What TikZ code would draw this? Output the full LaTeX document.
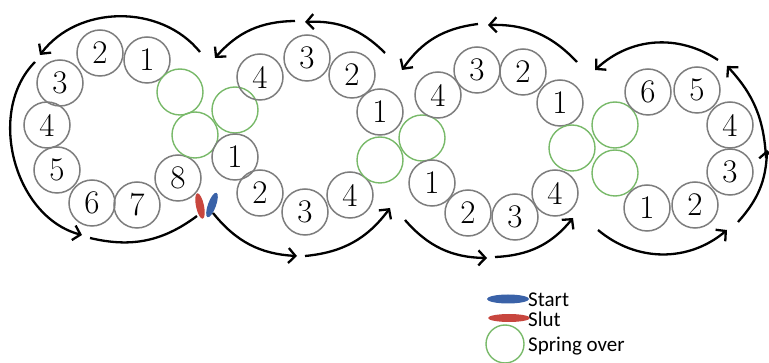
\documentclass[tikz,border=0pt]{standalone}
\usepackage{fontspec}
\newfontfamily\legendfont{Carlito}
\usetikzlibrary{arrows.meta,shapes.geometric}
\definecolor{kuglegraa}{RGB}{125,125,125}
\definecolor{springgroen}{RGB}{120,185,105}
\definecolor{startblaa}{RGB}{58,98,168}
\definecolor{slutroed}{RGB}{200,70,62}

\begin{document}
\begin{tikzpicture}[x=1pt,y=-1pt,
  kugle/.style={draw=kuglegraa, line width=1.5pt, circle, minimum size=46pt, inner sep=0pt, font=\fontsize{33}{33}\selectfont},
  springfelt/.style={draw=springgroen, line width=1.4pt, circle, minimum size=46pt, inner sep=0pt},
  markoer/.style={ellipse, minimum width=8pt, minimum height=26pt, inner sep=0pt},
  pil/.style={line width=2.3pt, -{Straight Barb[length=7pt,width=15pt]}},
  streg/.style={line width=2.3pt},
  legende/.style={anchor=base west, inner sep=0pt, font=\legendfont\fontsize{21}{21}\selectfont}]
\useasboundingbox (0,0) rectangle (769,363);

% ring 1
\node[kugle] (a1) at (147,60) {1};
\node[kugle] (a2) at (100,53) {2};
\node[kugle] (a3) at (60,83) {3};
\node[kugle] (a4) at (47,125) {4};
\node[kugle] (a5) at (57,170) {5};
\node[kugle] (a6) at (92,203) {6};
\node[kugle] (a7) at (137,205) {7};
\node[kugle] (a8) at (178,178) {8};
\node[springfelt] (ga1) at (180,92) {};
\node[springfelt] (ga2) at (195,135) {};

% ring 2
\node[springfelt] (gb1) at (235,110) {};
\node[kugle] (b1) at (235,157) {1};
\node[kugle] (b2) at (260,193) {2};
\node[kugle] (b3) at (305,212) {3};
\node[kugle] (b4) at (350,195) {4};
\node[kugle] (bt4) at (260,77) {4};
\node[kugle] (bt3) at (307,58) {3};
\node[kugle] (bt2) at (352,75) {2};
\node[kugle] (bt1) at (380,112) {1};
\node[springfelt] (gb2) at (380,160) {};

% ring 3
\node[springfelt] (gc1) at (422,138) {};
\node[kugle] (c1) at (432,183) {1};
\node[kugle] (c2) at (468,213) {2};
\node[kugle] (c3) at (515,217) {3};
\node[kugle] (c4) at (555,193) {4};
\node[kugle] (ct4) at (438,95) {4};
\node[kugle] (ct3) at (477,70) {3};
\node[kugle] (ct2) at (523,72) {2};
\node[kugle] (ct1) at (560,103) {1};
\node[springfelt] (gc2) at (572,148) {};

% ring 4
\node[springfelt] (gd1) at (615,125) {};
\node[springfelt] (gd2) at (615,173) {};
\node[kugle] (d6) at (648,92) {6};
\node[kugle] (d5) at (697,90) {5};
\node[kugle] (d4) at (730,125) {4};
\node[kugle] (d3) at (730,172) {3};
\node[kugle] (d2) at (695,205) {2};
\node[kugle] (d1) at (647,208) {1};

% start og slut
\node[markoer, fill=slutroed, rotate=12] (slut) at (200,206) {};
\node[markoer, fill=startblaa, rotate=-20] (start) at (212,205) {};

% pile rundt om ringene
\coordinate (a1s) at (200,52); \coordinate (a1e) at (40,55);
\coordinate (a2s) at (35,62); \coordinate (a2e) at (82,235);
\coordinate (a3s) at (90,238); \coordinate (a3e) at (197,216);
\path[draw,pil] (a1s) to[bend right=52] (a1e);
\path[draw,pil] (a2s) to[bend right=60] (a2e);
\path[draw,streg] (a3s) to[bend right=25] (a3e);

\coordinate (b1s) at (385,53); \coordinate (b1e) at (305,22);
\coordinate (b2s) at (295,21); \coordinate (b2e) at (215,58);
\coordinate (b3s) at (213,213); \coordinate (b3e) at (297,256);
\coordinate (b4s) at (305,256); \coordinate (b4e) at (390,208);
\path[draw,pil] (b1s) to[bend right=24] (b1e);
\path[draw,pil] (b2s) to[bend right=24] (b2e);
\path[draw,pil] (b3s) to[bend right=24] (b3e);
\path[draw,pil] (b4s) to[bend right=24] (b4e);

\coordinate (c1s) at (577,62); \coordinate (c1e) at (488,25);
\coordinate (c2s) at (478,24); \coordinate (c2e) at (402,70);
\coordinate (c3s) at (405,220); \coordinate (c3e) at (487,258);
\coordinate (c4s) at (495,257); \coordinate (c4e) at (573,218);
\path[draw,pil] (c1s) to[bend right=24] (c1e);
\path[draw,pil] (c2s) to[bend right=24] (c2e);
\path[draw,pil] (c3s) to[bend right=24] (c3e);
\path[draw,pil] (c4s) to[bend right=24] (c4e);

\coordinate (d1s) at (718,60); \coordinate (d1e) at (595,70);
\coordinate (d2s) at (598,230); \coordinate (d2e) at (727,230);
\coordinate (d3s) at (738,222); \coordinate (d3e) at (767,150);
\coordinate (d4s) at (766,158); \coordinate (d4e) at (727,66);
\path[draw,pil] (d1s) to[bend right=38] (d1e);
\path[draw,pil] (d2s) to[bend right=40] (d2e);
\path[draw,pil] (d3s) to[bend right=20] (d3e);
\path[draw,pil] (d4s) to[bend right=20] (d4e);

% forklaring
\node[ellipse, fill=startblaa, minimum width=42pt, minimum height=9pt, inner sep=0pt] (startsymbol) at (508,299) {};
\node[ellipse, fill=slutroed, minimum width=42pt, minimum height=8pt, inner sep=0pt] (slutsymbol) at (509,318) {};
\node[springfelt, minimum size=38pt] (springsymbol) at (505,344) {};
\node[legende] (starttekst) at (528,307) {Start};
\node[legende] (sluttekst) at (528,327) {Slut};
\node[legende] (springtekst) at (528,352) {Spring over};
\end{tikzpicture}
\end{document}
